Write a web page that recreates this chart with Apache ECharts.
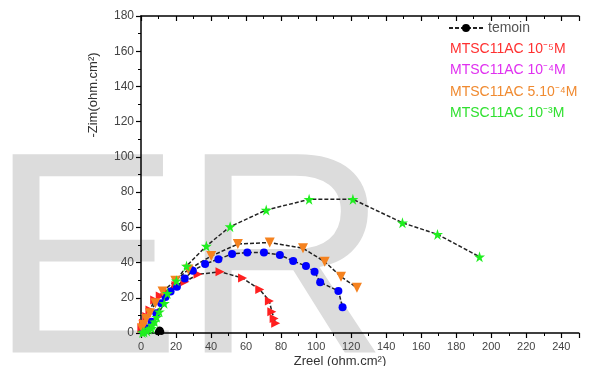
<!DOCTYPE html>
<html>
<head>
<meta charset="utf-8">
<script src="https://cdn.jsdelivr.net/npm/echarts@6/dist/echarts.min.js"></script>
<style>html,body{margin:0;padding:0;background:#fff}#c{width:591px;height:366px}</style>
</head>
<body>
<div id="c"></div>
<script>
// ---- data ----
const seriesNames = ['temoin', 'MTSC11AC 10⁻⁵M', 'MTSC11AC 10⁻⁴M', 'MTSC11AC 5.10⁻⁴M', 'MTSC11AC 10⁻³M'];
const temoin = [[9.6,0.4],[10,1.3],[10.6,2],[11.2,1.5],[11.6,0.5]];
const red = [[0.5,2.5],[1.4,5.5],[3.3,9.3],[5.1,13.1],[7.8,18.7],[11,21],[14.2,23.5],[20,27],[25.1,29.1],[32.5,33.3],[45.1,34.8],[58.0,31.2],[67.8,24.7],[73.3,18.2],[74.7,12.1],[76.0,8.3],[76.9,5.5]];
const blue = [[1.4,0.7],[3.3,2.7],[6.0,6.4],[8.7,11.2],[11.5,16.9],[14,20.5],[16.9,23.5],[20.5,26.3],[25,31],[29.6,35.4],[36.6,39.2],[44.2,41.9],[52.0,44.9],[60.7,45.7],[70.2,45.7],[79.3,44.3],[86.9,40.9],[94.2,38.0],[99.1,34.8],[102.3,28.8],[112.7,23.9],[115.1,14.6]];
const orange = [[0.5,2.7],[1.4,4.5],[3,8],[5.1,11.2],[8.2,16.9],[12.3,23.5],[19.6,29.7],[27,36],[40.1,43.7],[55.3,50.5],[73.5,51.4],[92.5,48.1],[104.9,40.5],[114.2,32.0],[123.3,25.7]];
const green = [[0.8,0.3],[1.8,0.6],[3.4,1.2],[4.5,2.2],[6.0,2.7],[6.5,4.5],[7.8,6.4],[9,9],[10.5,12.1],[13.3,16.9],[15.1,22.5],[20.2,29.7],[26.0,38.0],[37.3,49.4],[50.9,60.4],[71.5,69.8],[96.0,75.9],[121.0,75.9],[149.3,62.6],[169.3,56.0],[193.3,43.3]];
const xAxisTitle = 'Zreel (ohm.cm²)';
const yAxisTitle = '-Zim(ohm.cm²)';
const watermark = 'ER';

const FONT = '"Liberation Sans", Arial, sans-serif';
const STAR = 'path://M50,0 L61,35 L98,35 L68,57 L79,91 L50,70 L21,91 L32,57 L2,35 L39,35 Z';
const TRI_RIGHT = 'path://M0,0 L10,5 L0,10 Z';
const TRI_DOWN = 'path://M0,0 L10,0 L5,9 Z';
const lineStyle = {color:'#222', width:1.5, type:[4,2]};

function mk(name, data, symbol, size, color) {
  return {name, type:'line', data, symbol, symbolSize:size, showSymbol:true,
    itemStyle:{color, opacity:1}, lineStyle, z:3, animation:false};
}

const chart = echarts.init(document.getElementById('c'), null, {renderer:'canvas'});
chart.setOption({
  animation:false,
  backgroundColor:'#fff',
  grid:{left:141, right:-8, top:16, bottom:33},
  graphic:[
    {type:'text', x:-11, y:273, z:-10, silent:true,
     style:{text:watermark, fontSize:288, fontFamily:FONT, fill:'#dcdcdc', align:'left', verticalAlign:'middle'}},
    {type:'text', x:340, y:361, z:10,
     style:{text:xAxisTitle, fontSize:13, fontFamily:FONT, fill:'#333', align:'center', verticalAlign:'middle'}},
    {type:'text', x:93, y:95, rotation:Math.PI/2, z:10,
     style:{text:yAxisTitle, fontSize:13, fontFamily:FONT, fill:'#333', align:'center', verticalAlign:'middle'}}
  ],
  legend:[
    {data:[{name:seriesNames[0]}], left:443, top:16, itemWidth:34, itemHeight:10,
     textStyle:{color:'#555', fontSize:14, fontFamily:FONT}},
    {data:[
      {name:seriesNames[1], textStyle:{color:'#ff3030'}},
      {name:seriesNames[2], textStyle:{color:'#e030f0'}},
      {name:seriesNames[3], textStyle:{color:'#f08a30'}},
      {name:seriesNames[4], textStyle:{color:'#30e030'}}],
     orient:'vertical', left:440, top:37, itemWidth:0, itemHeight:14, itemGap:7.5, icon:'rect',
     textStyle:{fontSize:14, fontFamily:FONT, lineHeight:14}}
  ],
  xAxis:[
    {type:'value', min:0, max:250, interval:20, position:'bottom',
     axisLine:{lineStyle:{color:'#000', width:1.5}},
     axisTick:{inside:false, length:5, lineStyle:{color:'#000', width:1.2}},
     minorTick:{show:true, splitNumber:2, length:3, lineStyle:{color:'#000', width:1}},
     axisLabel:{color:'#444', fontSize:11, fontFamily:FONT, margin:8},
     splitLine:{show:false}},
    {type:'value', min:0, max:250, interval:20, position:'top',
     axisLine:{onZero:false, lineStyle:{color:'#000', width:1.5}},
     axisTick:{inside:true, length:5, lineStyle:{color:'#000', width:1.2}},
     minorTick:{show:true, splitNumber:2, length:3, lineStyle:{color:'#000', width:1}},
     axisLabel:{show:false}, splitLine:{show:false}}
  ],
  yAxis:{type:'value', min:0, max:180, interval:20,
     axisLine:{show:true, onZero:false, lineStyle:{color:'#000', width:1.5}},
     axisTick:{show:true, inside:false, length:5, lineStyle:{color:'#000', width:1.2}},
     minorTick:{show:true, splitNumber:2, length:3, lineStyle:{color:'#000', width:1}},
     axisLabel:{color:'#444', fontSize:12, fontFamily:FONT, margin:7},
     splitLine:{show:false}},
  series:[
    mk(seriesNames[0], temoin, 'circle', 6, '#000'),
    mk(seriesNames[1], red, TRI_RIGHT, 9, '#ff2020'),
    mk(seriesNames[2], blue, 'circle', 8, '#0000ff'),
    mk(seriesNames[3], orange, TRI_DOWN, 10, '#f5821f'),
    mk(seriesNames[4], green, STAR, 11, '#20ee20')
  ]
});
</script>
</body>
</html>
